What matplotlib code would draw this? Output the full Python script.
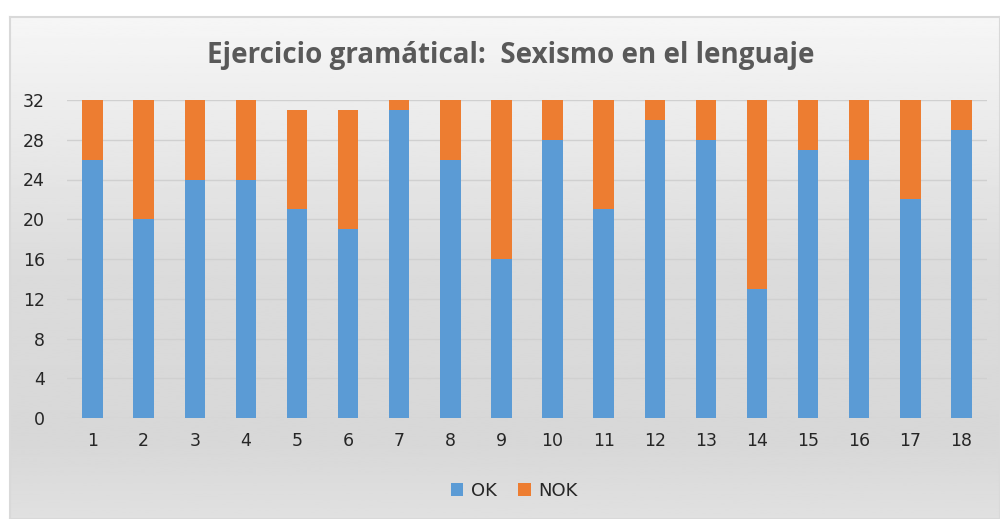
import matplotlib
matplotlib.use("Agg")
import matplotlib.pyplot as plt
import numpy as np

# Data
items = [str(i) for i in range(1, 19)]
ok = [26, 20, 24, 24, 21, 19, 31, 26, 16, 28, 21, 30, 28, 13, 27, 26, 22, 29]
nok = [6, 12, 8, 8, 10, 12, 1, 6, 16, 4, 11, 2, 4, 19, 5, 6, 10, 3]

W, H = 1000, 519
fig = plt.figure(figsize=(W / 100, H / 100), dpi=100)
fig.patch.set_facecolor("white")

# Chart area background with vertical gradient (Excel style)
x0 = 10 / W
bg = fig.add_axes([x0, 0, 1 - x0, (H - 17) / H], zorder=0)
grad = np.interp(np.linspace(0, 1, 256), [0, 0.5, 0.85, 1.0], [0.965, 0.86, 0.845, 0.88])
bg.imshow(grad[:, None], aspect="auto", cmap="gray", vmin=0, vmax=1,
          extent=[0, 1, 0, 1], origin="upper")
bg.set_xlim(0, 1)
bg.set_ylim(0, 1)
bg.set_xticks([])
bg.set_yticks([])
for s in bg.spines.values():
    s.set_color("#d9d9d9")
    s.set_linewidth(1.5)

# Plot area
left, right = 67 / W, 987 / W
bottom, top = (H - 418) / H, (H - 100) / H
ax = fig.add_axes([left, bottom, right - left, top - bottom], zorder=1)
ax.patch.set_alpha(0)

x = np.arange(len(items))
ax.bar(x, ok, width=0.4, color="#5b9bd5", label="OK", zorder=3)
ax.bar(x, nok, width=0.4, bottom=ok, color="#ed7d31", label="NOK", zorder=3)

ax.set_xlim(-0.5, len(items) - 0.5)
ax.set_ylim(0, 32)
ax.set_yticks(range(0, 33, 4))
ax.set_xticks(x)
ax.set_xticklabels(items)
ax.grid(axis="y", color="#d0d0d0", linewidth=1, zorder=0)
for s in ax.spines.values():
    s.set_visible(False)
ax.tick_params(length=0, labelsize=12.5, colors="#262626", pad=10)
ax.tick_params(axis="y", pad=16)

fig.text(0.511, (H - 56) / H, "Ejercicio gramátical:  Sexismo en el lenguaje",
         ha="center", va="center", fontsize=20, fontweight="bold", color="#595959",
         family="Open Sans")

ax.legend(loc="center", bbox_to_anchor=(0.486, (418 - 491) / 318),
          ncol=2, frameon=False, fontsize=13, handlelength=0.7, handleheight=0.7,
          columnspacing=1.2, handletextpad=0.4, labelcolor="#262626")

fig.savefig("out.png", dpi=100)
